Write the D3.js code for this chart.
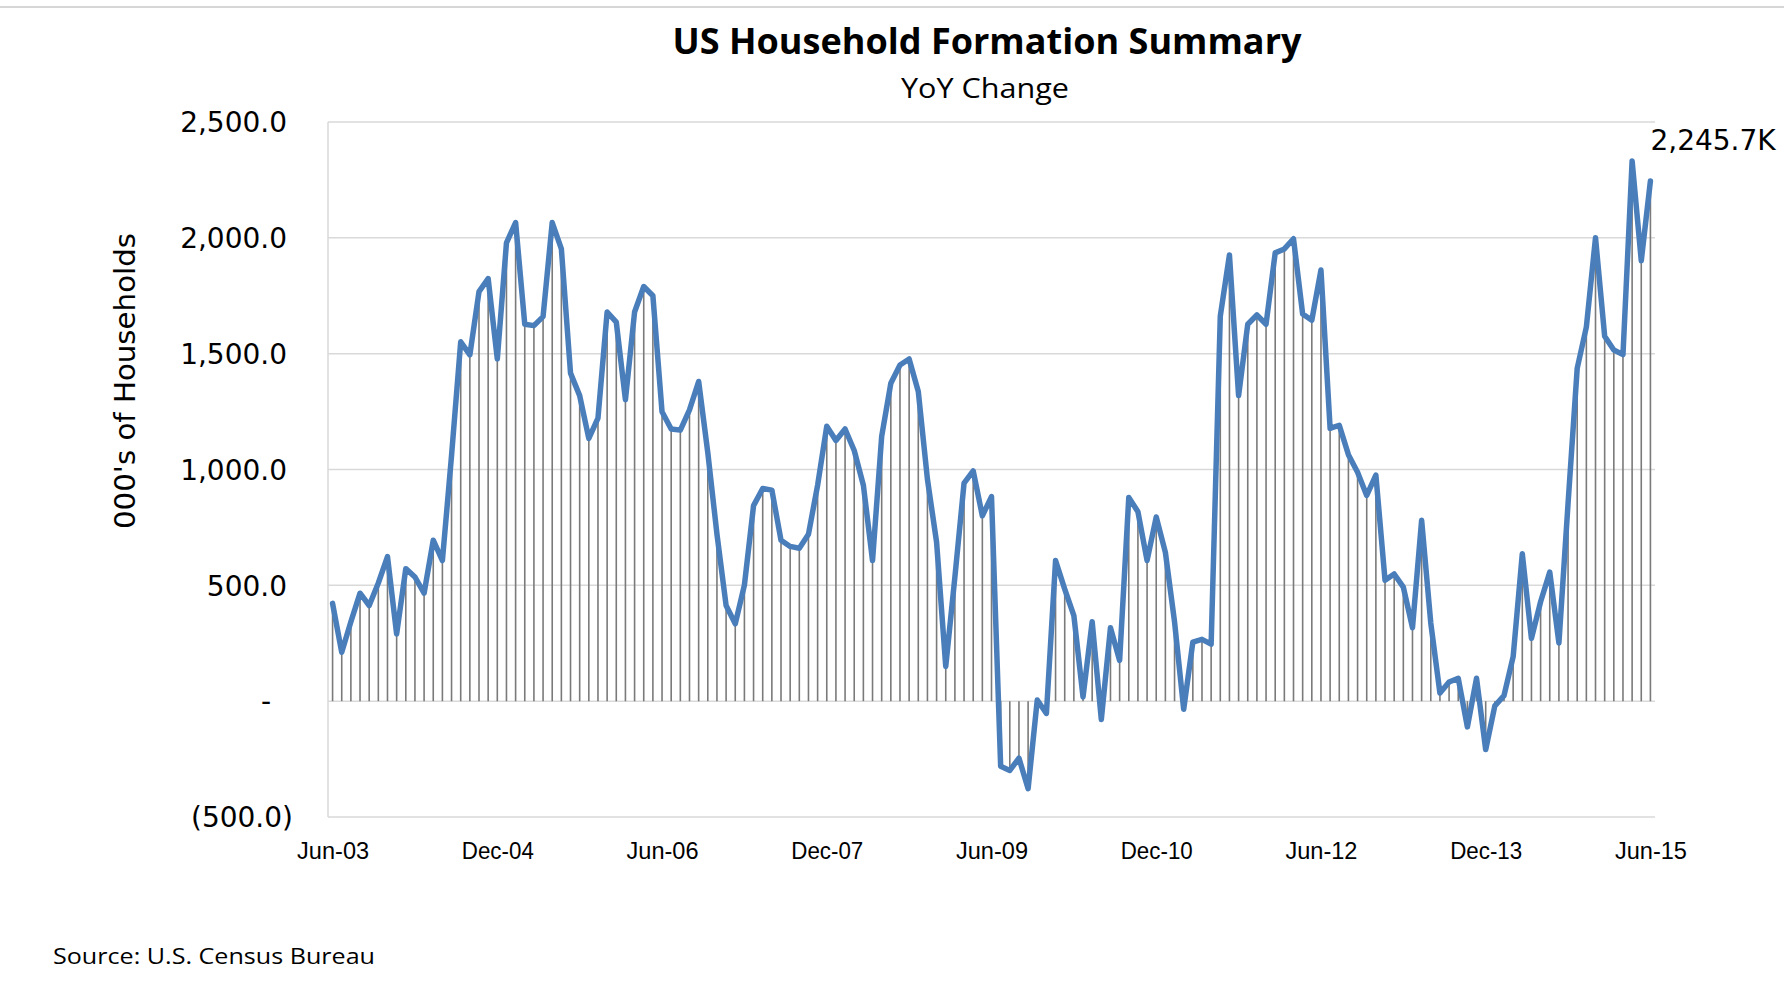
<!DOCTYPE html>
<html>
<head>
<meta charset="utf-8">
<script src="https://cdn.jsdelivr.net/npm/d3@7"></script>
<style>
  body { margin: 0; background: #fff; }
  .chart svg { display: block; }
</style>
</head>
<body>
<div class="chart"></div>
<script>
// US household formation, YoY change (000's), monthly Jun-03 .. Jun-15

var svgWidth = 1784;
var svgHeight = 981;

var margin = {
  top: 122,
  right: 129,
  bottom: 164,
  left: 328
};

var width = svgWidth - margin.left - margin.right;
var height = svgHeight - margin.top - margin.bottom;

// month categories, first and last month of the series
var firstMonth = new Date(2003, 5, 1);
var lastMonth = new Date(2015, 5, 1);

// labels shown on the x axis
var tickLabels = ["Jun-03", "Dec-04", "Jun-06", "Dec-07", "Jun-09", "Dec-10", "Jun-12", "Dec-13", "Jun-15"];

// y axis ticks
var yTicks = [-500, 0, 500, 1000, 1500, 2000, 2500];

// YoY change in households (000's), one per month
var yoyChange = [
  422, 211, 343, 466, 413, 510, 624, 290, 572, 536, 466, 695,
  607, 1060, 1551, 1495, 1768, 1824, 1477, 1978, 2066, 1627, 1621, 1660,
  2066, 1952, 1416, 1319, 1134, 1222, 1680, 1636, 1301, 1680, 1790, 1750,
  1249, 1175, 1170, 1257, 1380, 1073, 721, 413, 334, 501, 844, 918,
  911, 695, 668, 660, 721, 932, 1187, 1125, 1175, 1082, 932, 607,
  1143, 1372, 1451, 1477, 1337, 958, 686, 150, 536, 941, 994, 800,
  883, -281, -299, -246, -378, 5, -53, 607, 484, 369, 18, 343,
  -79, 317, 176, 879, 818, 607, 795, 642, 343, -35, 255, 267,
  246, 1662, 1926, 1319, 1627, 1667, 1627, 1935, 1952, 1996, 1671, 1644,
  1861, 1178, 1191, 1064, 988, 888, 976, 522, 549, 492, 317, 781,
  337, 35, 83, 99, -111, 99, -209, -20, 24, 192, 636, 271,
  429, 557, 251, 854, 1437, 1615, 2000, 1575, 1516, 1496, 2332, 1901,
  2245.7
];

var lastLabel = "2,245.7K";

// month labels like "Jun-03"
var monthFormat = d3.timeFormat("%b-%y");
var months = d3.timeMonth.range(firstMonth, d3.timeMonth.offset(lastMonth, 1)).map(monthFormat);

var chartData = months.map(function(m, i) {
  return { month: m, value: yoyChange[i] };
});

var svg = d3
  .select(".chart")
  .append("svg")
  .attr("width", svgWidth)
  .attr("height", svgHeight);

svg.append("rect")
  .attr("width", svgWidth)
  .attr("height", svgHeight)
  .attr("fill", "#fff");

// thin frame line across the top
svg.append("line")
  .attr("x1", 0)
  .attr("x2", svgWidth)
  .attr("y1", 7)
  .attr("y2", 7)
  .attr("stroke", "#d6d6d6")
  .attr("stroke-width", 2);

// titles
svg.append("text")
  .attr("x", 987)
  .attr("y", 42)
  .attr("dy", "0.35em")
  .attr("text-anchor", "middle")
  .attr("font-family", "Open Sans, sans-serif")
  .attr("font-weight", "bold")
  .attr("font-size", 35)
  .attr("textLength", 629)
  .attr("lengthAdjust", "spacingAndGlyphs")
  .attr("fill", "#000")
  .text("US Household Formation Summary");

svg.append("text")
  .attr("x", 985)
  .attr("y", 89)
  .attr("dy", "0.35em")
  .attr("text-anchor", "middle")
  .attr("font-family", "Open Sans, sans-serif")
  .attr("font-size", 27)
  .attr("textLength", 168)
  .attr("lengthAdjust", "spacingAndGlyphs")
  .attr("fill", "#000")
  .text("YoY Change");

var chartGroup = svg.append("g")
  .attr("transform", `translate(${margin.left}, ${margin.top})`);

// scales
var xScale = d3.scalePoint()
  .domain(months)
  .range([0, width])
  .padding(0.5);

var yScale = d3.scaleLinear()
  .domain([-500, 2500])
  .range([height, 0]);

// gridlines
chartGroup.append("g")
  .selectAll("line")
  .data(yTicks)
  .enter()
  .append("line")
  .attr("x1", 0)
  .attr("x2", width)
  .attr("y1", d => yScale(d))
  .attr("y2", d => yScale(d))
  .attr("stroke", "#d9d9d9")
  .attr("stroke-width", 1.5);

// left edge of plot area
chartGroup.append("line")
  .attr("x1", 0)
  .attr("x2", 0)
  .attr("y1", 0)
  .attr("y2", height)
  .attr("stroke", "#d9d9d9")
  .attr("stroke-width", 1.5);

// y axis
var numFormat = d3.format(",.1f");
var leftAxis = d3.axisLeft(yScale)
  .tickValues(yTicks)
  .tickSize(0)
  .tickFormat(function(d) {
    if (d < 0) return "(" + numFormat(-d) + ")";
    if (d === 0) return "-";
    return numFormat(d);
  });

var yAxis = chartGroup.append("g").call(leftAxis);
yAxis.select(".domain").remove();
yAxis.selectAll("text")
  .attr("font-family", "DejaVu Sans, sans-serif")
  .attr("font-size", 28)
  .attr("fill", "#000")
  .attr("x", d => d < 0 ? -35 : (d === 0 ? -57 : -41))
  .attr("dy", "0.35em");

// x axis
var bottomAxis = d3.axisBottom(xScale)
  .tickValues(tickLabels)
  .tickSize(0);

var xAxis = chartGroup.append("g")
  .attr("transform", `translate(0, ${height})`)
  .call(bottomAxis);
xAxis.select(".domain").remove();
xAxis.selectAll("text")
  .attr("font-family", "Liberation Sans Narrow, Liberation Sans, Arial, sans-serif")
  .attr("font-size", 24)
  .attr("fill", "#000")
  .attr("y", 34)
  .attr("dy", "0.35em")
  .attr("textLength", 72)
  .attr("lengthAdjust", "spacingAndGlyphs");

// drop lines from zero to each point
chartGroup.append("g")
  .selectAll("line")
  .data(chartData)
  .enter()
  .append("line")
  .attr("x1", d => xScale(d.month))
  .attr("x2", d => xScale(d.month))
  .attr("y1", yScale(0))
  .attr("y2", d => yScale(d.value))
  .attr("stroke", "#7a7a7a")
  .attr("stroke-width", 1.6);

// the series line
var line = d3.line()
  .x(d => xScale(d.month))
  .y(d => yScale(d.value));

chartGroup.append("path")
  .datum(chartData)
  .attr("d", line)
  .attr("fill", "none")
  .attr("stroke", "#4a7ebb")
  .attr("stroke-width", 5.5)
  .attr("stroke-linejoin", "round")
  .attr("stroke-linecap", "round");

// label for the last value
var lastPoint = chartData[chartData.length - 1];
chartGroup.append("text")
  .attr("x", xScale(lastPoint.month))
  .attr("y", 140 - margin.top)
  .attr("dy", "0.35em")
  .attr("font-family", "DejaVu Sans, sans-serif")
  .attr("font-size", 28)
  .attr("fill", "#000")
  .text(lastLabel);

// axis title
chartGroup.append("text")
  .attr("transform", "rotate(-90)")
  .attr("x", 0 - (381 - margin.top))
  .attr("y", 125 - margin.left)
  .attr("dy", "0.35em")
  .attr("text-anchor", "middle")
  .attr("font-family", "DejaVu Sans, sans-serif")
  .attr("font-size", 28)
  .attr("textLength", 296)
  .attr("lengthAdjust", "spacingAndGlyphs")
  .attr("fill", "#000")
  .text("000's of Households");

// source note
svg.append("text")
  .attr("x", 53)
  .attr("y", 957)
  .attr("dy", "0.35em")
  .attr("font-family", "Open Sans, sans-serif")
  .attr("font-size", 21)
  .attr("textLength", 322)
  .attr("lengthAdjust", "spacingAndGlyphs")
  .attr("fill", "#000")
  .text("Source: U.S. Census Bureau");
</script>
</body>
</html>
